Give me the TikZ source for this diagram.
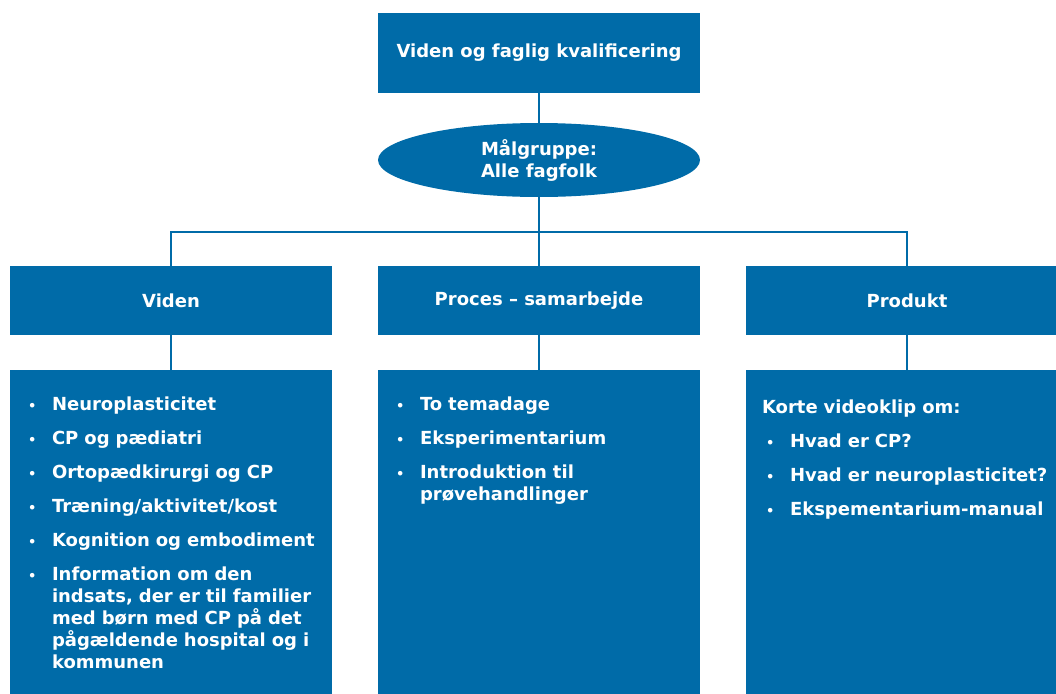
\documentclass[tikz,border=0pt]{standalone}
\usepackage{fontspec}
\setmainfont{DejaVu Sans}
\usetikzlibrary{shapes.geometric}
\definecolor{Navy}{RGB}{0,107,168}

\newcommand{\punkt}[1]{\hangindent=24pt\hangafter=1\noindent\makebox[24pt][l]{\raisebox{0.5pt}{\fontsize{13}{13}\selectfont\textbullet}}#1\par}

\tikzset{
  blok/.style={rectangle, fill=Navy, text=white, inner sep=0pt, minimum width=322pt},
  liste/.style={text=white, inner sep=0pt, anchor=north west, execute at begin node={\setlength{\parskip}{12pt}}},
  streg/.style={draw=Navy, line width=1.5pt}
}

\begin{document}
\begin{tikzpicture}[x=1pt, y=-1pt, font=\fontsize{18}{22}\selectfont\bfseries]
\useasboundingbox (0,0) rectangle (1056,693);

\node[blok, minimum height=80pt] (top) at (539,53) {\raisebox{-2pt}{Viden og faglig kvalificering}};
\node[blok, ellipse, minimum height=74pt, align=center] (maal) at (539,160) {Målgruppe:\\Alle fagfolk};

\node[blok, minimum height=69pt] (viden) at (171,300.5) {Viden};
\node[blok, minimum height=69pt] (proces) at (539,300.5) {\raisebox{-2pt}{Proces – samarbejde}};
\node[blok, minimum height=69pt] (produkt) at (907,300.5) {Produkt};

\node[blok, minimum height=340pt, anchor=north] (vidbox) at (171,370) {};
\node[blok, minimum height=340pt, anchor=north] (probox) at (539,370) {};
\node[blok, minimum height=340pt, anchor=north] (prdbox) at (907,370) {};

\node[liste, text width=300pt] (vidtxt) at ([xshift=18pt, yshift=-27pt]vidbox.north west) {%
\punkt{Neuroplasticitet}
\punkt{CP og pædiatri}
\punkt{Ortopædkirurgi og CP}
\punkt{Træning/aktivitet/kost}
\punkt{Kognition og embodiment}
\punkt{Information om den\newline indsats, der er til familier\newline med børn med CP på det\newline pågældende hospital og i\newline kommunen}};

\node[liste, text width=300pt] (protxt) at ([xshift=18pt, yshift=-27pt]probox.north west) {%
\punkt{To temadage}
\punkt{Eksperimentarium}
\punkt{Introduktion til\newline prøvehandlinger}};

\node[liste, text width=300pt] (prdtxt) at ([xshift=20pt, yshift=-30pt]prdbox.north west) {%
\noindent\hspace*{-4pt}Korte videoklip om:\par
\punkt{Hvad er CP?}
\punkt{Hvad er neuroplasticitet?}
\punkt{Ekspementarium-manual}};

\coordinate (bus) at (539,232);
\draw[streg] (top) -- (maal);
\draw[streg] (maal) -- (bus);
\draw[streg] (viden.north) |- (bus) -| (produkt.north);
\draw[streg] (bus) -- (proces.north);
\draw[streg] (viden) -- (vidbox);
\draw[streg] (proces) -- (probox);
\draw[streg] (produkt) -- (prdbox);

\end{tikzpicture}
\end{document}
